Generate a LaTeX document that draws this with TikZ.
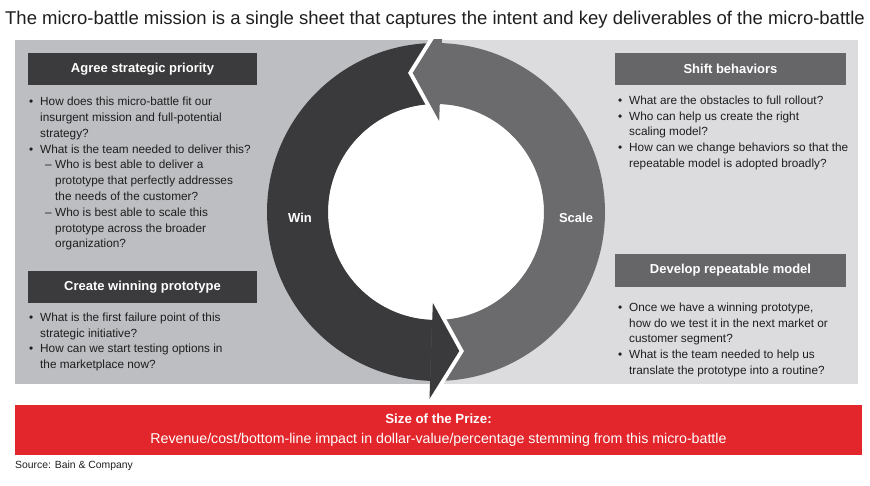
\documentclass[tikz,border=0pt]{standalone}
\usepackage{fontspec}
\setmainfont{Liberation Sans}
\usetikzlibrary{calc}
\definecolor{panelL}{HTML}{BDBEC2}
\definecolor{panelR}{HTML}{DCDCDF}
\definecolor{winC}{HTML}{3A3A3C}
\definecolor{scaleC}{HTML}{6B6B6E}
\definecolor{hdrD}{HTML}{3B3B3D}
\definecolor{hdrG}{HTML}{666669}
\definecolor{prizeC}{HTML}{E2262B}
\definecolor{txtC}{HTML}{1E1E1E}
\newcommand{\bul}{\makebox[11pt][l]{\textbullet}}
\newcommand{\bulgap}{\hspace*{11pt}}
\newcommand{\subdash}{\hspace*{16pt}\makebox[10pt][l]{--}}
\newcommand{\subgap}{\hspace*{26pt}}
\tikzset{
  hdr/.style={minimum width=229pt, minimum height=32pt, inner sep=0pt, text=white,
    font=\fontsize{13}{15}\selectfont\bfseries},
  bodytxt/.style={anchor=north west, inner sep=0pt, align=left, text=txtC,
    font=\fontsize{11.8}{15.8}\selectfont},
  gapline/.style={draw=white, line width=8pt},
  ringlbl/.style={text=white, font=\fontsize{13}{15}\selectfont\bfseries}
}
\begin{document}
\begin{tikzpicture}[x=1pt,y=1pt]
\useasboundingbox (0,0) rectangle (870,486);
% Title
\node[text=txtC] (title) at (435,466) {\fontsize{18.5}{20}\selectfont The micro-battle mission is a single sheet that captures the intent and key deliverables of the micro-battle};
% Panel
\fill[panelL] (15,102) rectangle (436,446);
\fill[panelR] (436,102) rectangle (858,446);
% Cycle
\coordinate (ringC) at (436,274);
\begin{scope}
  \clip (0,0) rectangle (870,446);
  \fill[white] (ringC) circle (108pt);
  \fill[winC] ($(ringC)+(88:169)$) arc[start angle=88, end angle=268.5, radius=169pt]
    -- ($(ringC)+(268.5:108)$) arc[start angle=268.5, end angle=88, radius=108pt] -- cycle;
  \fill[scaleC] ($(ringC)+(-92:169)$) arc[start angle=-92, end angle=88.5, radius=169pt]
    -- ($(ringC)+(88.5:108)$) arc[start angle=88.5, end angle=-92, radius=108pt] -- cycle;
  % Scale head
  \coordinate (sBarbO) at ($(ringC)+(88:187)$);
  \coordinate (sTip) at ($(ringC)+(99.5:141)$);
  \coordinate (sBarbI) at ($(ringC)+(88:91)$);
  \draw[gapline] (sBarbO) -- (sTip) -- (sBarbI);
  \fill[scaleC] (sBarbO) -- (sTip) -- (sBarbI) -- cycle;
  % Win head
  \coordinate (wBarbO) at ($(ringC)+(268:187)$);
  \coordinate (wTip) at ($(ringC)+(279.5:141)$);
  \coordinate (wBarbI) at ($(ringC)+(268:91)$);
  \draw[gapline] (wBarbO) -- (wTip) -- (wBarbI);
  \fill[winC] (wBarbO) -- (wTip) -- (wBarbI) -- cycle;
\end{scope}
\node[ringlbl] (win) at (300,268) {Win};
\node[ringlbl] (scale) at (576,268) {Scale};
% Left boxes
\node[hdr, fill=hdrD] (agreeHd) at (142.5,417) {Agree strategic priority};
\node[bodytxt] (agreeTxt) at (29,389) {\bul How does this micro-battle fit our\\
  \bulgap insurgent mission and full-potential\\
  \bulgap strategy?\\
  \bul What is the team needed to deliver this?\\
  \subdash Who is best able to deliver a\\
  \subgap prototype that perfectly addresses\\
  \subgap the needs of the customer?\\
  \subdash Who is best able to scale this\\
  \subgap prototype across the broader\\
  \subgap organization?};
\node[hdr, fill=hdrD] (createHd) at (142.5,199) {Create winning prototype};
\node[bodytxt] (createTxt) at (29,173.5) {\bul What is the first failure point of this\\
  \bulgap strategic initiative?\\
  \bul How can we start testing options in\\
  \bulgap the marketplace now?};
% Right boxes
\node[hdr, fill=hdrG, minimum width=231pt] (shiftHd) at (730.5,417) {Shift behaviors};
\node[bodytxt] (shiftTxt) at (618,390.5) {\bul What are the obstacles to full rollout?\\
  \bul Who can help us create the right\\
  \bulgap scaling model?\\
  \bul How can we change behaviors so that the\\
  \bulgap repeatable model is adopted broadly?};
\node[hdr, fill=hdrG, minimum width=231pt, minimum height=33pt] (developHd) at (730.5,215.5) {Develop repeatable model};
\node[bodytxt] (developTxt) at (618,183.5) {\bul Once we have a winning prototype,\\
  \bulgap how do we test it in the next market or\\
  \bulgap customer segment?\\
  \bul What is the team needed to help us\\
  \bulgap translate the prototype into a routine?};
% Prize bar
\node[fill=prizeC, minimum width=847pt, minimum height=50pt, inner sep=0pt] (prize) at (438.5,56) {};
\node[text=white, font=\fontsize{13.3}{16}\selectfont\bfseries] (prizeHd) at (438.5,67) {Size of the Prize:};
\node[text=white, font=\fontsize{14.2}{16}\selectfont] (prizeTxt) at (438.5,46) {Revenue/cost/bottom-line impact in dollar-value/percentage stemming from this micro-battle};
% Source
\node[anchor=west, inner sep=0pt, text=txtC, font=\fontsize{10.4}{12}\selectfont] (src) at (15,20) {Source: Bain \& Company};
\end{tikzpicture}
\end{document}
